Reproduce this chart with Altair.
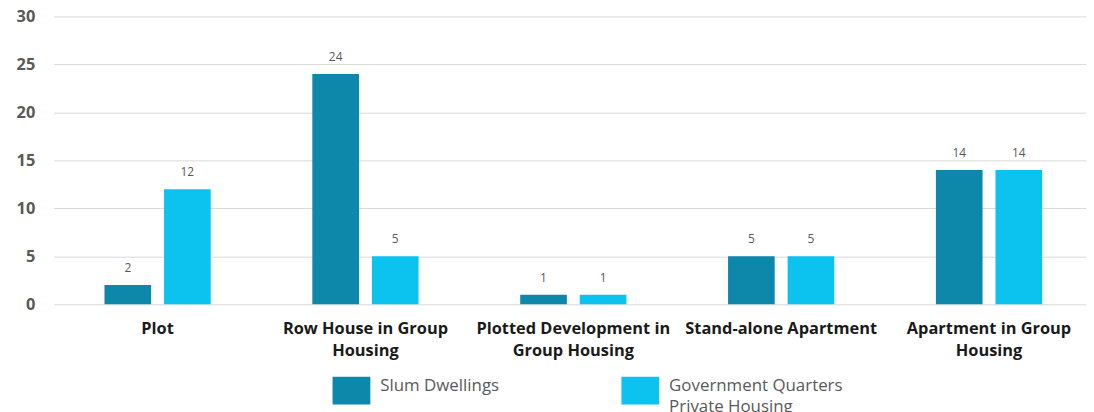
import altair as alt
import pandas as pd

categories = [
    "Plot",
    "Row House in Group Housing",
    "Plotted Development in Group Housing",
    "Stand-alone Apartment",
    "Apartment in Group Housing",
]
category_lines = [
    ["Plot"],
    ["Row House in Group", "Housing"],
    ["Plotted Development in", "Group Housing"],
    ["Stand-alone Apartment"],
    ["Apartment in Group", "Housing"],
]
series = ["Slum Dwellings", "Government Quarters Private Housing"]
series_lines = [["Slum Dwellings", " "], ["Government  Quarters", "Private Housing"]]
slum_values = [2, 24, 1, 5, 14]
gov_values = [12, 5, 1, 5, 14]
colors = ["#0e88aa", "#0cc3ef"]
y_ticks = [0, 5, 10, 15, 20, 25, 30]

rows = []
for i, c in enumerate(categories):
    rows.append({"Category": c, "Series": series[0], "Value": slum_values[i]})
    rows.append({"Category": c, "Series": series[1], "Value": gov_values[i]})
df = pd.DataFrame(rows)


def lines_expr(names, lines):
    expr = "datum.label"
    for n, l in reversed(list(zip(names, lines))):
        arr = "[" + ",".join("'" + s + "'" for s in l) + "]"
        expr = f"datum.label == '{n}' ? {arr} : ({expr})"
    return expr


x_enc = alt.X(
    "Category:N",
    sort=categories,
    scale=alt.Scale(range=[4, 1051], paddingInner=0, paddingOuter=0),
    axis=alt.Axis(
        title=None,
        domain=False,
        ticks=False,
        labelAngle=0,
        labelExpr=lines_expr(categories, category_lines),
        labelFont="Open Sans",
        labelFontWeight="bold",
        labelFontSize=16.5,
        labelColor="#1a1a1a",
        labelLineHeight=23,
        labelPadding=16,
        labelBaseline="top",
        labelLimit=400,
    ),
)
xoff = alt.XOffset(
    "Series:N",
    sort=series,
    scale=alt.Scale(paddingInner=0.2167, paddingOuter=0.853),
)
y_enc = alt.Y(
    "Value:Q",
    scale=alt.Scale(domain=[0, 30], nice=False),
    axis=alt.Axis(
        title=None,
        values=y_ticks,
        domain=False,
        ticks=False,
        tickSize=0,
        grid=True,
        gridColor="#d9d9d9",
        gridWidth=1,
        labelFont="Open Sans",
        labelFontWeight="bold",
        labelFontSize=16.5,
        labelColor="#595959",
        labelPadding=15,
    ),
)

bars = alt.Chart(df).mark_bar().encode(
    x=x_enc,
    xOffset=xoff,
    y=y_enc,
    color=alt.Color(
        "Series:N",
        sort=series,
        scale=alt.Scale(domain=series, range=colors),
        legend=alt.Legend(
            title=None,
            orient="none",
            direction="horizontal",
            legendX=290,
            legendY=363,
            padding=0,
            symbolType="M-1.36,-1H1.36V1H-1.36Z",
            symbolSize=784,
            symbolStrokeWidth=0,
            labelOffset=15,
            columnPadding=122,
            labelFont="Open Sans",
            labelFontSize=17,
            labelColor="#595959",
            labelBaseline="alphabetic",
            labelLimit=400,
            labelExpr=lines_expr(series, series_lines),
        ),
    ),
)

labels = alt.Chart(df).mark_text(
    dy=-17, baseline="middle", font="Open Sans", fontSize=12, color="#595959"
).encode(
    x=alt.X("Category:N", sort=categories),
    xOffset=alt.XOffset("Series:N", sort=series),
    y=alt.Y("Value:Q"),
    text=alt.Text("Value:Q"),
)

chart = (
    alt.layer(bars, labels)
    .properties(
        width=1044,
        height=290,
        padding={"left": 42, "top": 7, "right": 0, "bottom": 107},
        autosize=alt.AutoSizeParams(type="none"),
        background="white",
    )
    .configure(style={"guide-label": {"lineHeight": 21}})
    .configure_view(stroke=None)
)

chart.save("out.html", embed_options={"renderer": "svg", "actions": False})
